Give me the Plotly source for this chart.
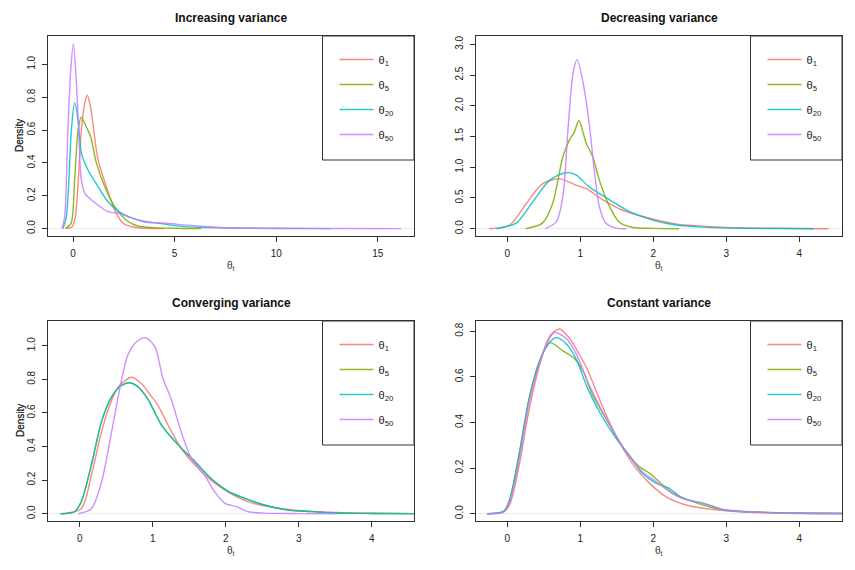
import plotly.graph_objects as go

W, H = 855, 570
OFF = 8                      # page body margin around the plot div
FW, FH = W - 2 * OFF, H - 2 * OFF

series = ["θ<sub>1</sub>", "θ<sub>5</sub>", "θ<sub>20</sub>", "θ<sub>50</sub>"]
colors = ["#F8766D", "#7CAE00", "#00BFC4", "#C77CFF"]
titles = ["Increasing variance", "Decreasing variance", "Converging variance", "Constant variance"]

# ---- Increasing variance
inc_x1 = [-0.33, -0.05, 0.1, 0.21, 0.41, 0.57, 0.70, 0.85, 0.98, 1.23, 1.64, 2.05, 2.46, 3.03, 3.6, 4.5]
inc_y1 = [0, 0.01, 0.06, 0.195, 0.60, 0.76, 0.812, 0.75, 0.64, 0.42, 0.256, 0.114, 0.033, 0.008, 0.002, 0]
inc_x5 = [-0.38, -0.1, 0.08, 0.25, 0.41, 0.65, 0.87, 1.15, 1.56, 2.05, 2.71, 3.2, 4.0, 5.0, 6.3]
inc_y5 = [0, 0.03, 0.296, 0.60, 0.678, 0.62, 0.56, 0.40, 0.256, 0.134, 0.043, 0.016, 0.006, 0.002, 0]
inc_x20 = [-0.49, -0.33, -0.2, -0.08, 0.08, 0.25, 0.41, 0.74, 1.23, 1.72, 2.38, 3.2, 4.18, 5.5, 7.5, 10, 12.7]
inc_y20 = [0, 0.07, 0.3, 0.60, 0.767, 0.66, 0.46, 0.357, 0.256, 0.164, 0.094, 0.053, 0.033, 0.012, 0.004, 0.001, 0]
inc_x50 = [-0.54, -0.41, -0.25, -0.11, 0.02, 0.16, 0.28, 0.41, 0.61, 1.23, 1.72, 2.21, 2.71, 3.5, 4.43, 5.9, 7.5, 10, 13, 16.15]
inc_y50 = [0, 0.073, 0.60, 0.966, 1.124, 0.905, 0.60, 0.296, 0.21, 0.144, 0.103, 0.094, 0.073, 0.04, 0.034, 0.018, 0.005, 0.002, 0.001, 0]

# ---- Decreasing variance
dec_x1 = [-0.25, 0.03, 0.26, 0.48, 0.71, 0.94, 1.08, 1.31, 1.58, 1.95, 2.31, 2.6, 3.0, 3.6, 4.4]
dec_y1 = [0, 0.06, 0.41, 0.73, 0.81, 0.71, 0.65, 0.47, 0.30, 0.17, 0.077, 0.045, 0.02, 0.006, 0]
dec_x5 = [0.25, 0.48, 0.62, 0.76, 0.85, 0.92, 0.98, 1.08, 1.17, 1.26, 1.40, 1.53, 1.72, 2.0, 2.35]
dec_y5 = [0, 0.09, 0.41, 1.17, 1.44, 1.58, 1.76, 1.39, 1.17, 0.79, 0.36, 0.11, 0.02, 0.005, 0]
dec_x20 = [-0.15, 0.12, 0.35, 0.58, 0.80, 0.94, 1.12, 1.40, 1.67, 1.99, 2.31, 2.7, 3.2, 3.7, 4.2]
dec_y20 = [0, 0.09, 0.44, 0.79, 0.91, 0.875, 0.68, 0.47, 0.28, 0.14, 0.06, 0.025, 0.008, 0.002, 0]
dec_x50 = [0.52, 0.67, 0.76, 0.83, 0.90, 0.955, 1.03, 1.12, 1.19, 1.26, 1.35, 1.49, 1.63]
dec_y50 = [0, 0.11, 0.52, 1.61, 2.53, 2.75, 2.42, 1.72, 0.96, 0.36, 0.09, 0.01, 0]

# ---- Converging variance
con_x1 = [-0.26, 0.02, 0.16, 0.30, 0.43, 0.55, 0.716, 0.84, 0.98, 1.07, 1.21, 1.39, 1.58, 1.80, 2.03, 2.31, 2.67, 2.95, 3.5, 4.0, 4.6]
con_y1 = [0, 0.03, 0.23, 0.49, 0.667, 0.766, 0.812, 0.776, 0.70, 0.647, 0.528, 0.39, 0.29, 0.20, 0.13, 0.071, 0.036, 0.022, 0.008, 0.003, 0.001]
con_x5 = [-0.26, -0.07, 0.02, 0.16, 0.30, 0.43, 0.55, 0.675, 0.80, 0.94, 1.12, 1.35, 1.58, 1.80, 2.03, 2.21, 2.53, 2.85, 3.1, 3.5, 4.0, 4.6]
con_y5 = [0, 0.012, 0.07, 0.29, 0.55, 0.69, 0.756, 0.779, 0.755, 0.677, 0.528, 0.41, 0.31, 0.21, 0.135, 0.10, 0.052, 0.022, 0.015, 0.005, 0.002, 0.001]
con_x20 = [-0.26, -0.07, 0.02, 0.16, 0.30, 0.43, 0.55, 0.675, 0.80, 0.94, 1.12, 1.35, 1.58, 1.80, 2.03, 2.21, 2.53, 2.85, 3.1, 3.5, 4.0, 4.6]
con_y20 = [0, 0.012, 0.07, 0.29, 0.55, 0.69, 0.756, 0.78, 0.756, 0.677, 0.528, 0.41, 0.31, 0.21, 0.135, 0.10, 0.052, 0.022, 0.015, 0.005, 0.002, 0.001]
con_x50 = [-0.02, 0.16, 0.30, 0.43, 0.55, 0.66, 0.78, 0.90, 1.03, 1.14, 1.25, 1.39, 1.53, 1.71, 1.85, 1.99, 2.15, 2.31, 2.53, 3.0, 3.5]
con_y50 = [0, 0.03, 0.19, 0.47, 0.746, 0.945, 1.024, 1.048, 0.994, 0.806, 0.687, 0.488, 0.33, 0.23, 0.13, 0.062, 0.042, 0.012, 0.004, 0.001, 0]

# ---- Constant variance
cst_x1 = [-0.25, -0.06, 0.03, 0.16, 0.30, 0.44, 0.575, 0.71, 0.85, 0.99, 1.10, 1.22, 1.40, 1.58, 1.76, 1.95, 2.17, 2.45, 2.77, 3.2, 3.8, 4.6]
cst_y1 = [0, 0.006, 0.038, 0.21, 0.46, 0.65, 0.776, 0.81, 0.77, 0.696, 0.63, 0.535, 0.40, 0.287, 0.20, 0.133, 0.075, 0.038, 0.02, 0.008, 0.002, 0.001]
cst_x5 = [-0.28, -0.05, 0.03, 0.16, 0.30, 0.44, 0.585, 0.76, 0.92, 1.03, 1.17, 1.40, 1.63, 1.81, 1.95, 2.08, 2.27, 2.54, 2.9, 3.4, 4.0, 4.6]
cst_y5 = [0, 0.01, 0.06, 0.26, 0.51, 0.67, 0.75, 0.714, 0.68, 0.63, 0.52, 0.39, 0.27, 0.206, 0.177, 0.14, 0.09, 0.053, 0.02, 0.008, 0.003, 0.001]
cst_x20 = [-0.28, -0.05, 0.03, 0.16, 0.30, 0.44, 0.55, 0.667, 0.80, 0.94, 1.08, 1.26, 1.49, 1.67, 1.85, 2.04, 2.22, 2.40, 2.68, 3.0, 3.5, 4.0, 4.6]
cst_y20 = [0, 0.012, 0.06, 0.257, 0.506, 0.667, 0.74, 0.772, 0.747, 0.68, 0.565, 0.447, 0.33, 0.257, 0.177, 0.133, 0.111, 0.067, 0.046, 0.015, 0.006, 0.002, 0.001]
cst_x50 = [-0.28, -0.05, 0.03, 0.16, 0.30, 0.44, 0.55, 0.645, 0.80, 0.94, 1.12, 1.40, 1.63, 1.85, 2.04, 2.22, 2.40, 2.68, 3.0, 3.5, 4.0, 4.6]
cst_y50 = [0, 0.008, 0.05, 0.235, 0.49, 0.66, 0.75, 0.795, 0.77, 0.703, 0.565, 0.39, 0.27, 0.184, 0.14, 0.097, 0.067, 0.046, 0.015, 0.006, 0.002, 0.001]

panels = [
    [(inc_x1, inc_y1), (inc_x5, inc_y5), (inc_x20, inc_y20), (inc_x50, inc_y50)],
    [(dec_x1, dec_y1), (dec_x5, dec_y5), (dec_x20, dec_y20), (dec_x50, dec_y50)],
    [(con_x1, con_y1), (con_x5, con_y5), (con_x20, con_y20), (con_x50, con_y50)],
    [(cst_x1, cst_y1), (cst_x5, cst_y5), (cst_x20, cst_y20), (cst_x50, cst_y50)],
]

x_ranges = [[-1.23, 16.78], [-0.43, 4.585], [-0.434, 4.58], [-0.43, 4.585]]
y_ranges = [[-0.045, 1.173], [-0.119, 3.135], [-0.043, 1.147], [-0.032, 0.845]]
x_ticks = [[0, 5, 10, 15], [0, 1, 2, 3, 4], [0, 1, 2, 3, 4], [0, 1, 2, 3, 4]]
y_ticks = [[0, 0.2, 0.4, 0.6, 0.8, 1.0], [0, 0.5, 1.0, 1.5, 2.0, 2.5, 3.0],
           [0, 0.2, 0.4, 0.6, 0.8, 1.0], [0, 0.2, 0.4, 0.6, 0.8]]

# plot boxes in window pixels: left, right, top, bottom
boxes = [(48, 414, 36, 236), (476, 842, 36, 236), (48, 414, 321, 521), (476, 842, 321, 521)]


def px(x):
    return (x - OFF) / FW


def py(y):
    return 1 - (y - OFF) / FH


FONT = "Liberation Sans, Arial, sans-serif"
INK = "#222222"

fig = go.Figure()
layout = dict(
    width=FW, height=FH, margin=dict(l=0, r=0, t=0, b=0),
    paper_bgcolor="white", plot_bgcolor="white",
    font=dict(family=FONT, size=10, color=INK),
    showlegend=True,
)
annotations = []
shapes = []

for p in range(4):
    sfx = "" if p == 0 else str(p + 1)
    leg = "legend" if p == 0 else "legend" + str(p + 1)
    for k in range(4):
        xs, ys = panels[p][k]
        fig.add_trace(go.Scatter(
            x=xs, y=ys, mode="lines", name=series[k],
            line=dict(color=colors[k], width=1.4, shape="spline", smoothing=0.8),
            opacity=0.85, xaxis="x" + sfx, yaxis="y" + sfx,
            legend=leg, legendgroup=f"{p}-{k}", hoverinfo="skip",
        ))
    l, r, t, b = boxes[p]
    layout["xaxis" + sfx] = dict(
        domain=[px(l), px(r)], range=x_ranges[p], anchor="y" + sfx,
        tickvals=x_ticks[p], ticks="outside", ticklen=5, tickwidth=1, tickcolor="#333",
        showline=True, mirror=True, linecolor="#333", linewidth=1,
        showgrid=False, zeroline=False, tickfont=dict(size=10, color=INK),
        ticklabelstandoff=3,
    )
    layout["yaxis" + sfx] = dict(
        domain=[py(b), py(t)], range=y_ranges[p], anchor="x" + sfx,
        tickvals=y_ticks[p], tickformat=".1f", ticks="outside", ticklen=5, tickwidth=1,
        tickcolor="#333", tickangle=-90,
        showline=True, mirror=True, linecolor="#333", linewidth=1,
        showgrid=False, zeroline=True, zerolinecolor="#ececec", zerolinewidth=1,
        tickfont=dict(size=10, color=INK), ticklabelstandoff=3,
    )
    # legend frame, top-right corner of the plot box
    shapes.append(dict(type="rect", xref="x" + sfx + " domain", yref="y" + sfx + " domain",
                       x0=0.75, x1=1, y0=0.38, y1=1,
                       line=dict(color="#333", width=1), fillcolor="rgba(0,0,0,0)"))
    layout[leg] = dict(
        x=px(l + 0.75 * (r - l) + 12), xanchor="left",
        y=py(t + 9), yanchor="top",
        bgcolor="rgba(0,0,0,0)", borderwidth=0,
        font=dict(size=11, color=INK), tracegroupgap=6, itemwidth=34,
        traceorder="grouped",
    )
    cx = px((l + r) / 2)
    annotations.append(dict(text=f"<b>{titles[p]}</b>", x=cx, y=py(t - 18),
                            xref="paper", yref="paper", showarrow=False,
                            xanchor="center", yanchor="middle",
                            font=dict(size=12, color="#111")))
    annotations.append(dict(text="Density", x=px(20), y=py((t + b) / 2),
                            xref="paper", yref="paper", showarrow=False, textangle=-90,
                            xanchor="center", yanchor="middle",
                            font=dict(size=10, color="#333")))
    annotations.append(dict(text="θ<sub>t</sub>", x=cx, y=py(b + 30),
                            xref="paper", yref="paper", showarrow=False,
                            xanchor="center", yanchor="middle",
                            font=dict(size=10, color="#333")))

layout["annotations"] = annotations
layout["shapes"] = shapes
fig.update_layout(**layout)

fig.write_html("out.html")
